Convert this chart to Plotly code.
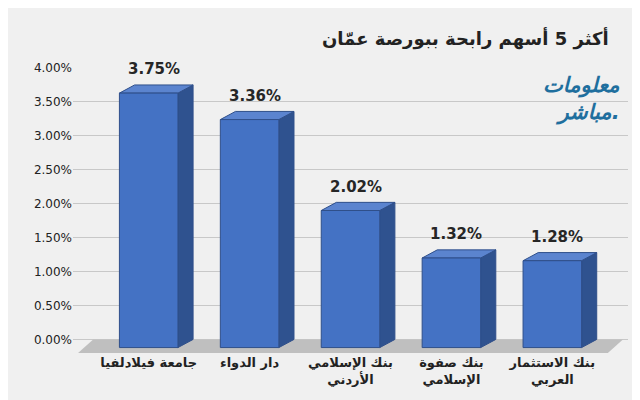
import plotly.graph_objects as go

categories = ["جامعة فيلادلفيا", "دار الدواء", "بنك الإسلامي<br>الأردني", "بنك صفوة<br>الإسلامي", "بنك الاستثمار<br>العربي"]
values = [3.75, 3.36, 2.02, 1.32, 1.28]
labels = ["3.75%", "3.36%", "2.02%", "1.32%", "1.28%"]
ticks = [0, 0.5, 1, 1.5, 2, 2.5, 3, 3.5, 4]
tick_text = ["0.00%", "0.50%", "1.00%", "1.50%", "2.00%", "2.50%", "3.00%", "3.50%", "4.00%"]

xs = list(range(len(values)))
hw = 0.29
dx, dy = 0.15, 0.12
fig = go.Figure()

fig.add_trace(go.Scatter(x=[-0.55, 4.7, 4.55, -0.7, -0.55], y=[0, 0, -0.2, -0.2, 0], fill="toself",
                         fillcolor="#bfbfbf", line=dict(width=0), mode="lines", hoverinfo="skip"))
for x, v, t in zip(xs, values, labels):
    vv = v - 0.12
    fig.add_trace(go.Scatter(x=[x+hw, x+hw+dx, x+hw+dx, x+hw, x+hw], y=[-0.12, 0, vv+dy, vv, -0.12],
                             fill="toself", fillcolor="#2f528f", line=dict(color="#2f4f8a", width=1),
                             mode="lines", hoverinfo="skip"))
    fig.add_trace(go.Scatter(x=[x-hw, x-hw+dx, x+hw+dx, x+hw, x-hw], y=[vv, vv+dy, vv+dy, vv, vv],
                             fill="toself", fillcolor="#5b84cf", line=dict(color="#2f4f8a", width=1),
                             mode="lines", hoverinfo="skip"))
    fig.add_trace(go.Scatter(x=[x-hw, x+hw, x+hw, x-hw, x-hw], y=[-0.12, -0.12, vv, vv, -0.12],
                             fill="toself", fillcolor="#4472c4", line=dict(color="#2f4f8a", width=1),
                             mode="lines", hoverinfo="skip"))
    fig.add_annotation(x=x+0.05, y=v+0.07, text="<b>"+t+"</b>", showarrow=False, yanchor="bottom",
                       font=dict(size=15, color="#262626"))

fig.add_annotation(xref="paper", yref="paper", x=0.97, y=1.15, text="<b>أكثر 5 أسهم رابحة ببورصة عمّان</b>",
                   showarrow=False, xanchor="right", font=dict(size=18, color="#222"))
fig.add_annotation(xref="paper", yref="paper", x=0.99, y=0.99, text="<b><i>معلومات<br>مباشر.</i></b>",
                   showarrow=False, xanchor="right", yanchor="top", align="right",
                   font=dict(size=21, color="#1f6f9e"))

fig.update_layout(
    width=640, height=400, showlegend=False,
    paper_bgcolor="#f0f0f0", plot_bgcolor="rgba(0,0,0,0)",
    margin=dict(l=65, r=20, t=60, b=55),
    font=dict(family="DejaVu Sans", color="#222"),
    xaxis=dict(range=[-0.75, 4.75], tickvals=xs, ticktext=["<b>"+c+"</b>" for c in categories],
               showgrid=False, zeroline=False, tickfont=dict(size=13)),
    yaxis=dict(range=[-0.2, 4.0], tickvals=ticks, ticktext=tick_text, gridcolor="#c8c8c8",
               zeroline=False, tickfont=dict(size=12)),
)
fig.write_html("out.html")
